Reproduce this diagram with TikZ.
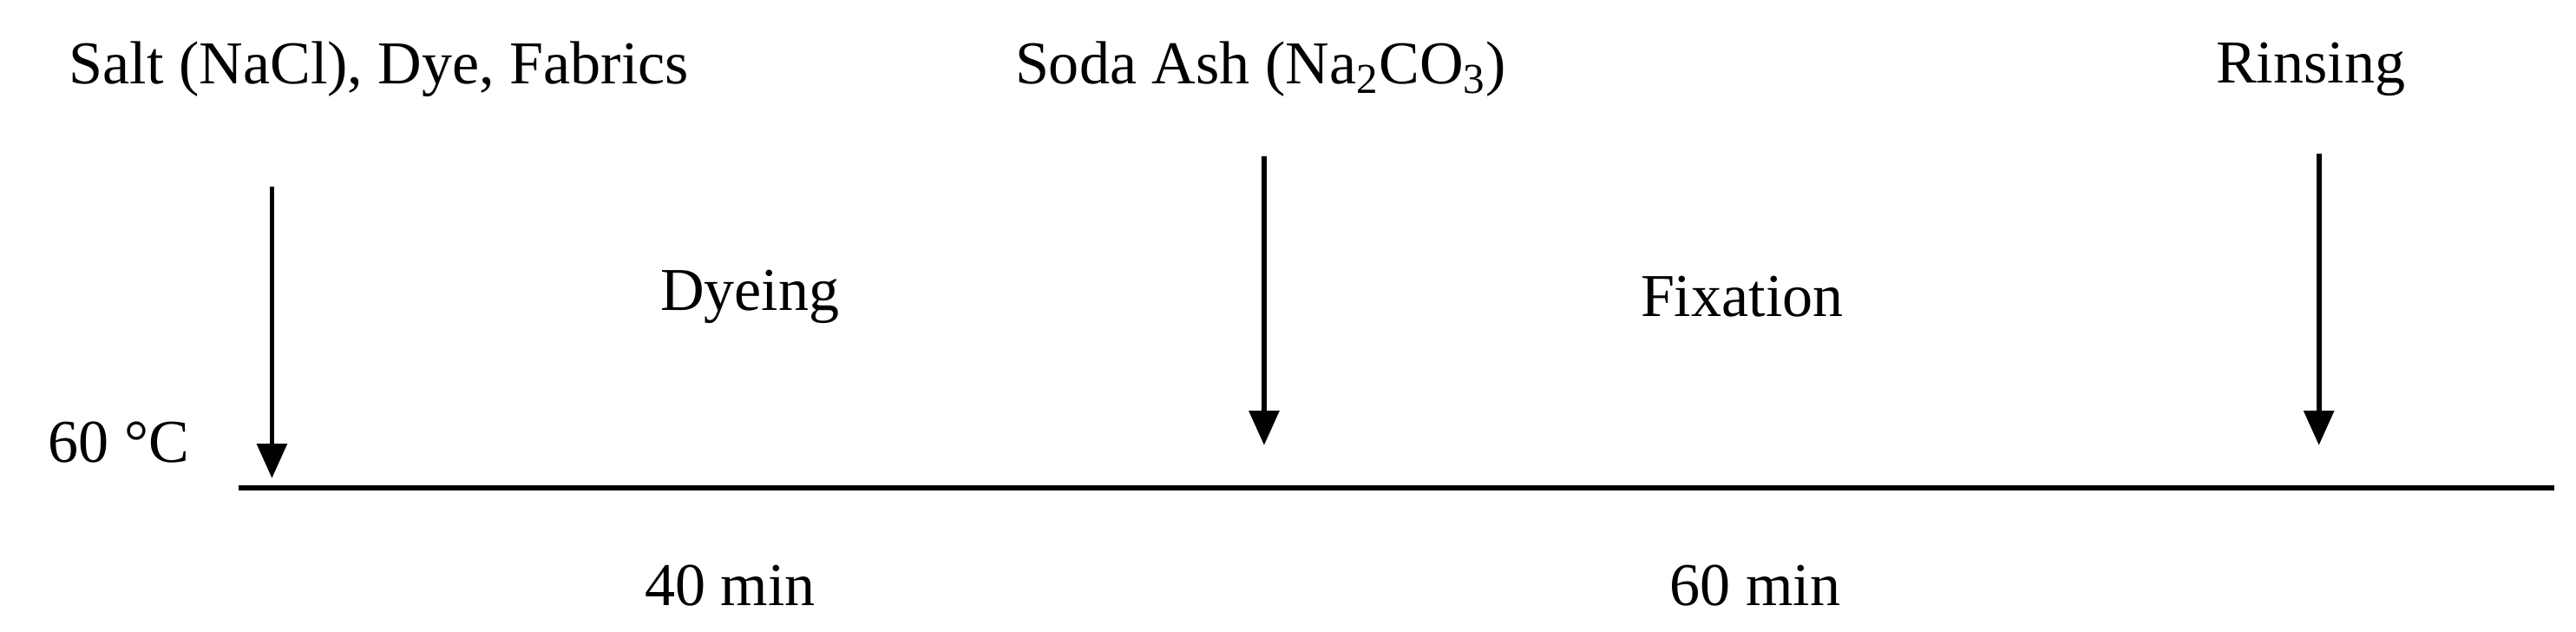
\documentclass[tikz,border=0pt]{standalone}
\usepackage{fontspec}
\setmainfont{Liberation Serif}
\usetikzlibrary{arrows.meta}
\begin{document}
\begin{tikzpicture}[x=0.02cm,y=-0.02cm,
  lbl/.style={font=\fontsize{21}{25}\selectfont,inner sep=0pt},
  arr/.style={line width=1.7pt,-{Triangle[length=0.42cm,width=0.36cm]}}]
\useasboundingbox (0,0) rectangle (1563,383);
\node[lbl] (t1) at (230,42) {Salt (NaCl), Dye, Fabrics};
\node[lbl] (t2) at (765,42) {Soda Ash (Na\textsubscript{2}CO\textsubscript{3})};
\node[lbl] (t3) at (1402,42) {Rinsing};
\coordinate (a1s) at (165,113); \coordinate (a1e) at (165,290);
\coordinate (a2s) at (767,95); \coordinate (a2e) at (767,270);
\coordinate (a3s) at (1407,93); \coordinate (a3e) at (1407,270);
\draw[arr] (a1s) -- (a1e);
\draw[arr] (a2s) -- (a2e);
\draw[arr] (a3s) -- (a3e);
\node[lbl] (d) at (455,180) {Dyeing};
\node[lbl] (f) at (1057,180) {Fixation};
\node[lbl] (c) at (72,268) {60 °C};
\coordinate (l1) at (145,296); \coordinate (l2) at (1550,296);
\draw[line width=1.7pt] (l1) -- (l2);
\node[lbl] (m1) at (443,355) {40 min};
\node[lbl] (m2) at (1065,355) {60 min};
\end{tikzpicture}
\end{document}
